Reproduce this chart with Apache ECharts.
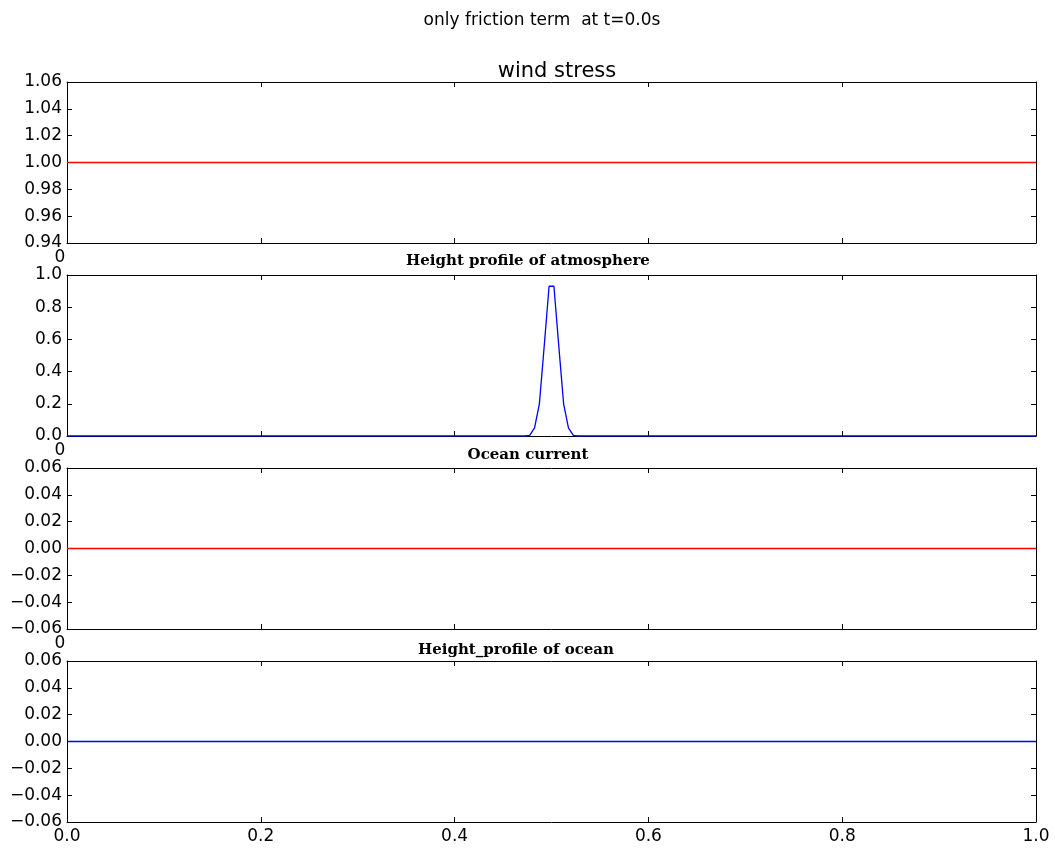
<!DOCTYPE html>
<html lang="en">
<head>
    <meta charset="UTF-8">
    <title>only friction term at t=0.0s</title>
    <script src="https://cdn.jsdelivr.net/npm/echarts@6/dist/echarts.min.js"></script>
    <style>
        html, body { margin: 0; padding: 0; background: #fff; }
        #main { width: 1055px; height: 849px; }
    </style>
</head>
<body>
<div id="main"></div>
<script type="text/javascript">
    // data
    var windX = [0, 1];
    var windY = [1, 1];
    var atmosX = [0, 0.4725, 0.4775, 0.4825, 0.4875, 0.4925, 0.4975, 0.5025, 0.5075, 0.5125, 0.5175, 0.5225, 0.5275, 1];
    var atmosY = [0, 0, 0.004, 0.05, 0.2, 0.56, 0.93, 0.93, 0.56, 0.2, 0.05, 0.004, 0, 0];
    var currentX = [0, 1];
    var currentY = [0, 0];
    var oceanX = [0, 1];
    var oceanY = [0, 0];

    var panelTitles = ['wind stress', 'Height profile of atmosphere', 'Ocean current', 'Height_profile of ocean'];
    var yRanges = [[0.94, 1.06, 0.02, 2], [0, 1, 0.2, 1], [-0.06, 0.06, 0.02, 2], [-0.06, 0.06, 0.02, 2]];

    var tops = [82, 275, 468, 661];
    var h = 161;

    function pairs(xs, ys) {
        var res = [];
        for (var i = 0; i < xs.length; i++) res.push([xs[i], ys[i]]);
        return res;
    }

    var lab = { fontFamily: 'DejaVu Sans', fontSize: 17, color: '#000' };
    var grids = [], xAxes = [], yAxes = [], series = [];
    var lines = [[windX, windY, '#ff0000'], [atmosX, atmosY, '#0000ff'],
                 [currentX, currentY, '#ff0000'], [oceanX, oceanY, '#0000ff']];

    for (var k = 0; k < 4; k++) {
        grids.push({ left: 67, right: 19, top: tops[k], height: h, show: false });
        var last = (k === 3);
        // bottom x axis
        xAxes.push({
            type: 'value', gridIndex: k, position: 'bottom', min: 0, max: 1, interval: 0.2,
            axisLine: { show: true, onZero: false, lineStyle: { color: '#000', width: 1 } },
            axisTick: { show: true, inside: true, length: 5, lineStyle: { color: '#000' } },
            axisLabel: Object.assign({
                show: true, margin: 6,
                formatter: last ? function (v) { return v.toFixed(1); }
                                : function (v) { return v === 0 ? '0' : ''; },
                padding: last ? 0 : [0, 14, 0, 0]
            }, lab),
            splitLine: { show: false }
        });
        // top mirror
        xAxes.push({
            type: 'value', gridIndex: k, position: 'top', min: 0, max: 1, interval: 0.2,
            axisLine: { show: true, onZero: false, lineStyle: { color: '#000', width: 1 } },
            axisTick: { show: true, inside: true, length: 5, lineStyle: { color: '#000' } },
            axisLabel: { show: false }, splitLine: { show: false }
        });
        var r = yRanges[k];
        yAxes.push({
            type: 'value', gridIndex: k, position: 'left', min: r[0], max: r[1], interval: r[2],
            axisLine: { show: true, onZero: false, lineStyle: { color: '#000', width: 1 } },
            axisTick: { show: true, inside: true, length: 5, lineStyle: { color: '#000' } },
            axisLabel: Object.assign({
                margin: 5,
                formatter: (function (d) {
                    return function (v) {
                        var s = (Math.abs(v) < 1e-9 ? 0 : v).toFixed(d);
                        return s.replace('-', '\u2212');
                    };
                })(r[3])
            }, lab),
            splitLine: { show: false }
        });
        yAxes.push({
            type: 'value', gridIndex: k, position: 'right', min: r[0], max: r[1], interval: r[2],
            axisLine: { show: true, onZero: false, lineStyle: { color: '#000', width: 1 } },
            axisTick: { show: true, inside: true, length: 5, lineStyle: { color: '#000' } },
            axisLabel: { show: false }, splitLine: { show: false }
        });
        series.push({
            type: 'line', xAxisIndex: 2 * k, yAxisIndex: 2 * k,
            data: pairs(lines[k][0], lines[k][1]),
            showSymbol: false, symbol: 'none', animation: false,
            lineStyle: { color: lines[k][2], width: 1.3 },
            z: 1
        });
    }

    var subTitleStyle = { fontFamily: 'DejaVu Serif', fontWeight: 'bold', fontSize: 15, color: '#000' };
    var titles = [
        { text: 'only friction term  at t=0.0s', left: 537, top: 7, textAlign: 'center',
          textStyle: { fontFamily: 'DejaVu Sans', fontSize: 17, fontWeight: 'normal', color: '#000' } },
        { text: panelTitles[0], left: 552, top: 56, textAlign: 'center',
          textStyle: { fontFamily: 'DejaVu Sans', fontSize: 21, fontWeight: 'normal', color: '#000' } },
        { text: panelTitles[1], left: 523, top: 249, textAlign: 'center', textStyle: subTitleStyle },
        { text: panelTitles[2], left: 523, top: 443, textAlign: 'center', textStyle: subTitleStyle },
        { text: panelTitles[3], left: 511, top: 638, textAlign: 'center', textStyle: subTitleStyle }
    ];

    var myChart = echarts.init(document.getElementById('main'));
    myChart.setOption({
        animation: false,
        backgroundColor: '#fff',
        title: titles,
        grid: grids,
        xAxis: xAxes,
        yAxis: yAxes,
        series: series
    });
</script>
</body>
</html>
